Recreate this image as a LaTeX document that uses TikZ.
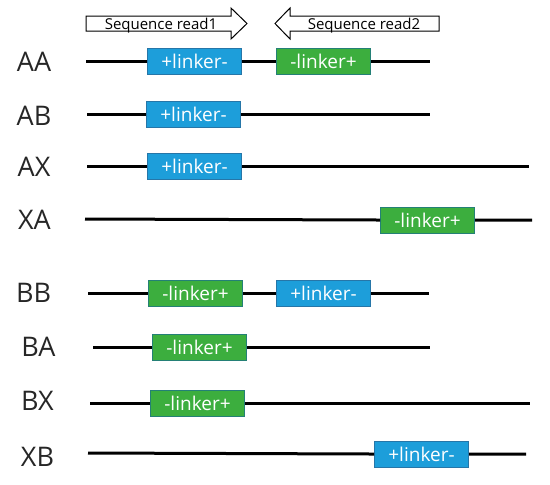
\documentclass[tikz,border=0pt]{standalone}
\usepackage{fontspec}
\setmainfont{Open Sans}
\usetikzlibrary{positioning}
\definecolor{linkblue}{RGB}{29,158,218}
\definecolor{blueedge}{RGB}{38,118,168}
\definecolor{linkgreen}{RGB}{60,174,62}
\definecolor{greenedge}{RGB}{36,128,118}

\begin{document}
\begin{tikzpicture}[
x=0.5pt,
y=-0.5pt,
rowname/.style={
  font=\fontsize{13.5}{15}\selectfont,
  text=black!85,
  inner sep=0pt
  },
fwd/.style={
  draw=blueedge,
  fill=linkblue,
  text=white,
  line width=0.5pt,
  minimum width=47pt,
  minimum height=13pt,
  inner sep=0pt,
  anchor=west,
  font=\fontsize{9.5}{11}\selectfont
  },
rev/.style={
  fwd,
  draw=greenedge,
  fill=linkgreen
  },
dna/.style={
  line width=1.5pt
  },
readarrow/.style={
  draw,
  fill=white,
  line width=0.5pt
  },
readtext/.style={
  font=\fontsize{7.5}{9}\selectfont,
  inner sep=0pt
  }
]
\useasboundingbox (0,0) rectangle (550,484);

% read direction arrows
\draw[readarrow] (86,16) -- (231,16) -- (231,8) -- (247,23.5) -- (231,39) -- (231,31) -- (86,31) -- cycle;
\node[readtext] (read1) at (161,25.5) {Sequence read1};
\draw[readarrow] (439,16) -- (290,16) -- (290,8) -- (275,23.5) -- (290,39) -- (290,31) -- (439,31) -- cycle;
\node[readtext] (read2) at (364,25.5) {Sequence read2};

% row names
\foreach \name/\tag/\x/\y in {AA/aa/34/62,AB/ab/34/116,AX/ax/34/167,XA/xa/34.5/220,
  BB/bb/33.5/293,BA/ba/38.5/347,BX/bx/37.5/401,XB/xb/37.5/457}
  \node[rowname] (\tag-lab) at (\x,\y) {\name};

% AA
\coordinate (aa-s) at (86,61);
\coordinate (aa-e) at (430,61);
\node[fwd] (aa-1) at (147,61) {+linker-};
\node[rev] (aa-2) at (276,61) {-linker+};
\draw[dna] (aa-s) -- (aa-1.west) (aa-1.east) -- (aa-2.west) (aa-2.east) -- (aa-e);

% AB
\coordinate (ab-s) at (87,114);
\coordinate (ab-e) at (430,114);
\node[fwd] (ab-1) at (146,114) {+linker-};
\draw[dna] (ab-s) -- (ab-1.west) (ab-1.east) -- (ab-e);

% AX
\coordinate (ax-s) at (87,166);
\coordinate (ax-e) at (529,166);
\node[fwd] (ax-1) at (147,166) {+linker-};
\draw[dna] (ax-s) -- (ax-1.west) (ax-1.east) -- (ax-e);

% XA
\coordinate (xa-s) at (85,219);
\coordinate (xa-e) at (532,220);
\node[rev] (xa-1) at (380,220) {-linker+};
\draw[dna] (xa-s) -- (xa-1.west) (xa-1.east) -- (xa-e);

% BB
\coordinate (bb-s) at (88,293);
\coordinate (bb-e) at (429,293);
\node[rev] (bb-1) at (148,293) {-linker+};
\node[fwd] (bb-2) at (276,293) {+linker-};
\draw[dna] (bb-s) -- (bb-1.west) (bb-1.east) -- (bb-2.west) (bb-2.east) -- (bb-e);

% BA
\coordinate (ba-s) at (93,347);
\coordinate (ba-e) at (430,347);
\node[rev] (ba-1) at (152,347) {-linker+};
\draw[dna] (ba-s) -- (ba-1.west) (ba-1.east) -- (ba-e);

% BX
\coordinate (bx-s) at (90,403);
\coordinate (bx-e) at (530,403);
\node[rev] (bx-1) at (150,403) {-linker+};
\draw[dna] (bx-s) -- (bx-1.west) (bx-1.east) -- (bx-e);

% XB
\coordinate (xb-s) at (88,453);
\coordinate (xb-e) at (526,454);
\node[fwd] (xb-1) at (374,454) {+linker-};
\draw[dna] (xb-s) -- (xb-1.west) (xb-1.east) -- (xb-e);

\end{tikzpicture}
\end{document}
